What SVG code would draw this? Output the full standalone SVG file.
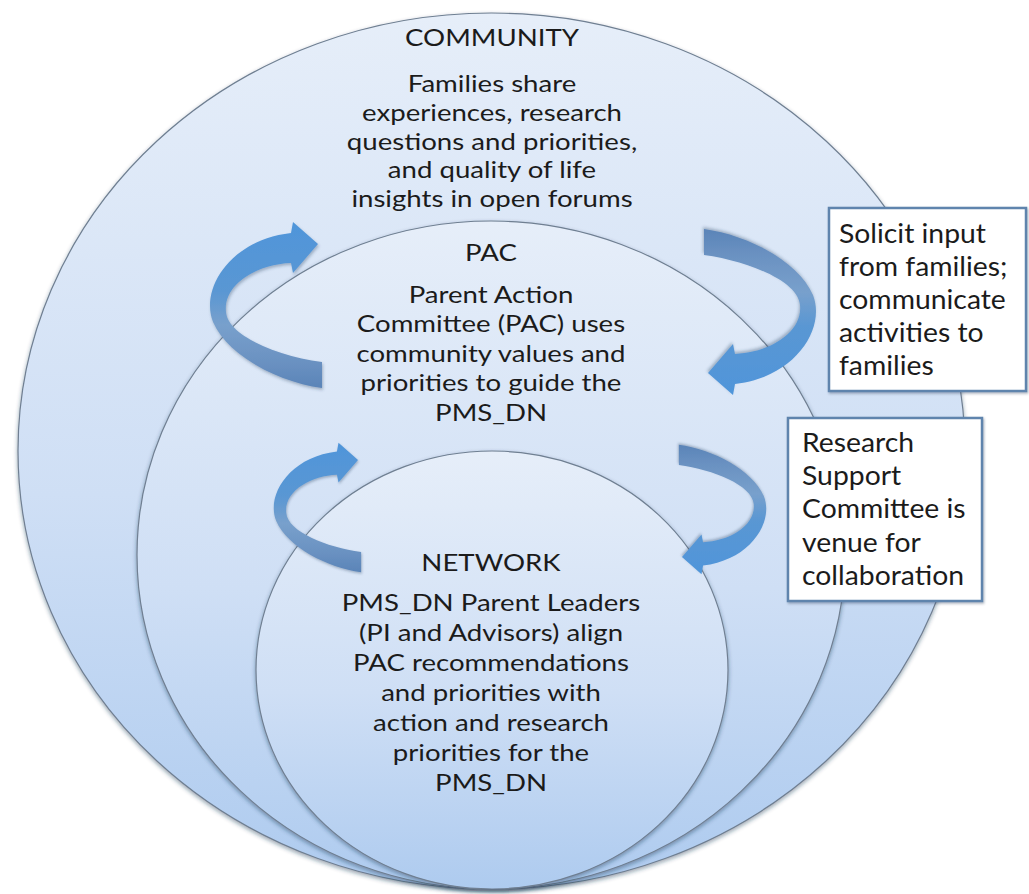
<svg xmlns="http://www.w3.org/2000/svg" width="1029" height="894" viewBox="0 0 1029 894">
  <defs>
    <linearGradient id="ringFill" x1="0" y1="0" x2="0" y2="1">
      <stop offset="0" stop-color="#e6eef9"/>
      <stop offset="0.55" stop-color="#cfdff5"/>
      <stop offset="1" stop-color="#aecbef"/>
    </linearGradient>
    <linearGradient id="arrowFill" x1="0" y1="0" x2="0" y2="1">
      <stop offset="0" stop-color="#4f95da"/>
      <stop offset="0.42" stop-color="#5a97d3"/>
      <stop offset="0.62" stop-color="#78a0cc"/>
      <stop offset="0.85" stop-color="#6a91c1"/>
      <stop offset="1" stop-color="#5a84b8"/>
    </linearGradient>
    <filter id="softShadow" x="-10%" y="-10%" width="120%" height="125%">
      <feDropShadow dx="0" dy="2" stdDeviation="2" flood-color="#1f3550" flood-opacity="0.45"/>
    </filter>
    <filter id="arrowShadow" x="-20%" y="-20%" width="140%" height="140%">
      <feDropShadow dx="1" dy="2" stdDeviation="1.5" flood-color="#2a4463" flood-opacity="0.35"/>
    </filter>
    <filter id="boxShadow" x="-10%" y="-10%" width="120%" height="120%">
      <feDropShadow dx="1" dy="1.5" stdDeviation="1.2" flood-color="#30465e" flood-opacity="0.4"/>
    </filter>
    <!-- circular ribbon arrow, tip at origin pointing right -->
    <path id="loopArrow" d="M4,144 C-40,138 -90,112 -105,78 C-118,45 -88,-4 -27,-11 L-25,-22 L0,0 L-25,29 L-27,19 C-60,20 -95,40 -92,68 C-90,92 -40,112 4,118 Z"/>
    <style>
      .ring { fill: url(#ringFill); stroke: #6f7f92; stroke-width: 1.2; filter: url(#softShadow); }
      .lbl { font-family: Lato, "Open Sans", "Liberation Sans", sans-serif; font-size: 24px; fill: #1b1b1b; text-anchor: middle; }
      .boxtxt { font-family: Lato, "Open Sans", "Liberation Sans", sans-serif; font-size: 26px; fill: #1b1b1b; }
      .box { fill: #ffffff; stroke: #5f84ad; stroke-width: 2.5; filter: url(#boxShadow); }
      .arrow { fill: url(#arrowFill); filter: url(#arrowShadow); }
    </style>
  </defs>

  <!-- outer ring: community -->
  <g id="community">
    <ellipse class="ring" cx="491.5" cy="451" rx="473.5" ry="438"/>
    <g transform="translate(492,0) scale(1.15,1)">
      <text class="lbl" x="0" y="46">COMMUNITY</text>
      <text class="lbl" x="0" y="92">Families share</text>
      <text class="lbl" x="0" y="121">experiences, research</text>
      <text class="lbl" x="0" y="150">questions and priorities,</text>
      <text class="lbl" x="0" y="178">and quality of life</text>
      <text class="lbl" x="0" y="207">insights in open forums</text>
    </g>
  </g>

  <!-- middle ring: parent action committee -->
  <g id="pac">
    <ellipse class="ring" cx="491" cy="555" rx="354" ry="334"/>
    <g transform="translate(491,0) scale(1.15,1)">
      <text class="lbl" x="0" y="261">PAC</text>
      <text class="lbl" x="0" y="303">Parent Action</text>
      <text class="lbl" x="0" y="332">Committee (PAC) uses</text>
      <text class="lbl" x="0" y="362">community values and</text>
      <text class="lbl" x="0" y="391">priorities to guide the</text>
      <text class="lbl" x="0" y="421">PMS_DN</text>
    </g>
  </g>

  <!-- inner ring: network -->
  <g id="network">
    <ellipse class="ring" cx="492" cy="670" rx="236" ry="219"/>
    <g transform="translate(491,0) scale(1.15,1)">
      <text class="lbl" x="0" y="571">NETWORK</text>
      <text class="lbl" x="0" y="611">PMS_DN Parent Leaders</text>
      <text class="lbl" x="0" y="641">(PI and Advisors) align</text>
      <text class="lbl" x="0" y="671">PAC recommendations</text>
      <text class="lbl" x="0" y="701">and priorities with</text>
      <text class="lbl" x="0" y="731">action and research</text>
      <text class="lbl" x="0" y="761">priorities for the</text>
      <text class="lbl" x="0" y="791">PMS_DN</text>
    </g>
  </g>

  <!-- feedback loops between the rings -->
  <g id="connectors">
    <use href="#loopArrow" class="arrow" transform="translate(318,244)"/>
    <use href="#loopArrow" class="arrow" transform="translate(358,460) scale(0.78)"/>
    <use href="#loopArrow" class="arrow" transform="translate(708,373) rotate(180)"/>
    <use href="#loopArrow" class="arrow" transform="translate(682,557) rotate(180) scale(0.78)"/>
  </g>

  <g id="box-solicit">
    <rect class="box" x="829" y="208" width="197" height="183"/>
    <g transform="translate(839,0) scale(1.09,1)">
      <text class="boxtxt" x="0" y="243">Solicit input</text>
      <text class="boxtxt" x="0" y="276">from families;</text>
      <text class="boxtxt" x="0" y="309">communicate</text>
      <text class="boxtxt" x="0" y="342">activities to</text>
      <text class="boxtxt" x="0" y="375">families</text>
    </g>
  </g>

  <g id="box-research">
    <rect class="box" x="788" y="418" width="194" height="183"/>
    <g transform="translate(802,0) scale(1.09,1)">
      <text class="boxtxt" x="0" y="452">Research</text>
      <text class="boxtxt" x="0" y="485">Support</text>
      <text class="boxtxt" x="0" y="518">Committee is</text>
      <text class="boxtxt" x="0" y="552">venue for</text>
      <text class="boxtxt" x="0" y="585">collaboration</text>
    </g>
  </g>
</svg>
